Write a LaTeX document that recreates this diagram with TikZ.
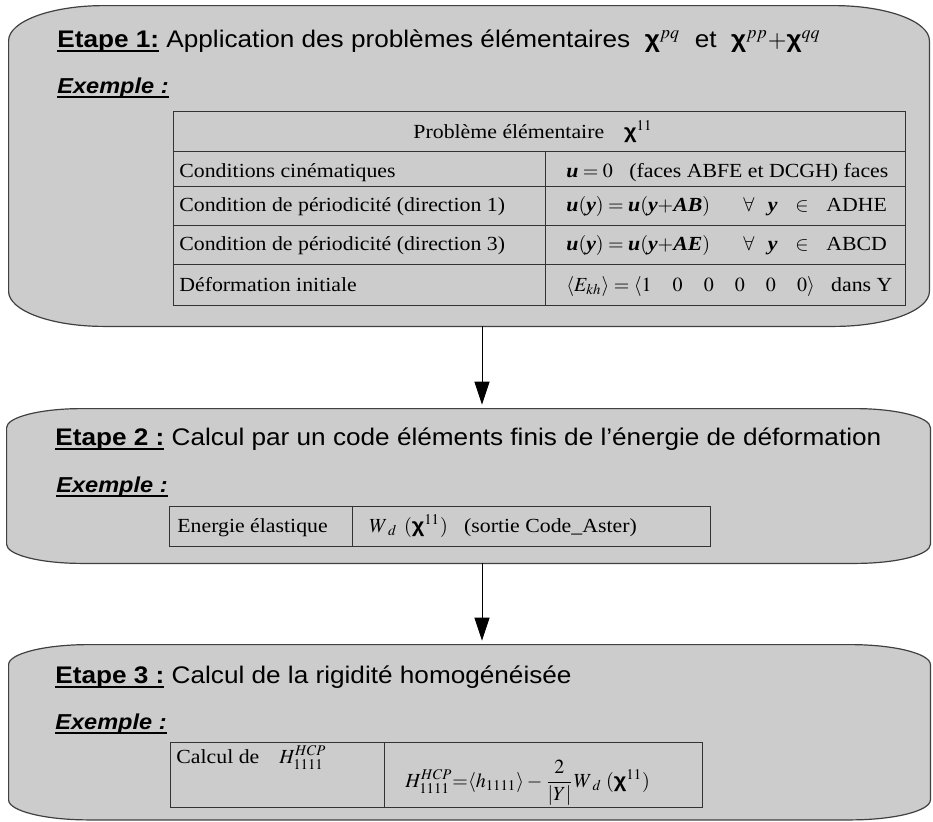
\documentclass[tikz,border=0pt]{standalone}
\usepackage{amsmath}
\usepackage{mathptmx}
\usepackage{fontspec}
\setmainfont{Liberation Serif}[FakeStretch=1.09]
\setsansfont{Liberation Sans}[FakeStretch=1.09]
\usetikzlibrary{arrows.meta,positioning,calc,fit}
\usepackage{xcolor}
\definecolor{boxgray}{RGB}{204,204,204}

\newcommand{\headul}[1]{\setbox0\hbox{#1}\rlap{\rule[-2.3pt]{\wd0}{0.8pt}}\box0\relax}
\newcommand{\bv}[1]{\mbox{\bfseries\itshape #1}}
\newcommand{\chib}{\mbox{\sffamily\bfseries χ}}
% outline of a step box with elliptic corners: node, x radius, y radius
\newcommand{\stepoutline}[3]{%
  \path[steppath]
    ($(#1.north west)+(#2,0)$) -- ($(#1.north east)+(-#2,0)$)
    .. controls ($(#1.north east)+(-0.45*#2,0)$) and ($(#1.north east)+(0,0.45*#3)$) .. ($(#1.north east)+(0,#3)$)
    -- ($(#1.south east)+(0,-#3)$)
    .. controls ($(#1.south east)+(0,-0.45*#3)$) and ($(#1.south east)+(-0.45*#2,0)$) .. ($(#1.south east)+(-#2,0)$)
    -- ($(#1.south west)+(#2,0)$)
    .. controls ($(#1.south west)+(0.45*#2,0)$) and ($(#1.south west)+(0,-0.45*#3)$) .. ($(#1.south west)+(0,-#3)$)
    -- ($(#1.north west)+(0,#3)$)
    .. controls ($(#1.north west)+(0,0.45*#3)$) and ($(#1.north west)+(0.45*#2,0)$) .. ($(#1.north west)+(#2,0)$)
    -- cycle;}

\begin{document}
\begin{tikzpicture}[x=0.5pt, y=-0.5pt,
    stepnode/.style={inner sep=0pt},
    steppath/.style={draw=black!75, line width=0.6pt, fill=boxgray},
    head/.style={font=\sffamily\fontsize{12}{14}\selectfont, inner sep=0pt, anchor=base west},
    exhead/.style={font=\sffamily\fontsize{10.8}{12}\selectfont, inner sep=0pt, anchor=base west},
    cell/.style={font=\fontsize{10}{12}\selectfont, inner sep=0pt, anchor=base west},
    grid/.style={draw=black!80, line width=0.5pt},
    flow/.style={draw, line width=0.5pt, shorten >=2pt, -{Triangle[length=11.5pt,width=7.5pt]}}
]
    \useasboundingbox (0,0) rectangle (933,821);

    \node[stepnode, fit={(9,6) (929,326)}] (step1) {};
    \node[stepnode, fit={(7,409) (930,563)}] (step2) {};
    \node[stepnode, fit={(9,645) (930,819.5)}] (step3) {};
    \stepoutline{step1}{95}{35}
    \stepoutline{step2}{75}{19}
    \stepoutline{step3}{80}{20}

    % Etape 1
    \node[head] (title1) at (57,47) {\headul{\textbf{Etape 1:}} Application des problèmes élémentaires~~$\chib^{pq}$~~et~~$\chib^{pp}{+}\chib^{qq}$};
    \node[exhead] (ex1) at (57,93) {\headul{\textbf{\textit{Exemple :}}}};
    \draw[grid] (173,111) rectangle (905,305);
    \foreach \yy in {151,186,225,264}
        \draw[grid] (173,\yy) -- (905,\yy);
    \draw[grid] (545,151) -- (545,305);
    \node[cell, anchor=base] (prob) at (533,138) {Problème élémentaire\quad$\chib^{11}$};
    \node[cell] (cin) at (179,177) {Conditions cinématiques};
    \node[cell] (per1) at (179,211) {Condition de périodicité (direction 1)};
    \node[cell] (per3) at (179,250) {Condition de périodicité (direction 3)};
    \node[cell] (defo) at (179,291) {Déformation initiale};
    \node[cell] (cinv) at (566,177) {$\bv{u}=0$~~~(faces ABFE et DCGH) faces};
    \node[cell] (per1v) at (566,211) {$\bv{u}(\bv{y})=\bv{u}(\bv{y}{+}\bv{AB})\quad\;\;\;\forall\;\;\;\bv{y}\;\;\;\in\;\;\;\mbox{ADHE}$};
    \node[cell] (per3v) at (566,250) {$\bv{u}(\bv{y})=\bv{u}(\bv{y}{+}\bv{AE})\quad\;\;\;\forall\;\;\;\bv{y}\;\;\;\in\;\;\;\mbox{ABCD}$};
    \node[cell] (defov) at (566,291) {$\langle E_{kh}\rangle=\langle 1\mkern19mu 0\mkern19mu 0\mkern19mu 0\mkern19mu 0\mkern19mu 0\rangle$~~~dans Y};

    % Etape 2
    \node[head] (title2) at (55,445) {\headul{\textbf{Etape 2 :}} Calcul par un code éléments finis de l'énergie de déformation};
    \node[exhead] (ex2) at (56,492) {\headul{\textbf{\textit{Exemple :}}}};
    \draw[grid] (169,506) rectangle (710,546);
    \draw[grid] (352,506) -- (352,546);
    \node[cell] (ener) at (177,532) {Energie élastique};
    \node[cell] (enerv) at (369,532) {$W_{\mkern5mu d}\mkern6mu(\chib^{11})$~~~(sortie Code\_Aster)};

    % Etape 3
    \node[head] (title3) at (55,683) {\headul{\textbf{Etape 3 :}} Calcul de la rigidité homogénéisée};
    \node[exhead] (ex3) at (55,729) {\headul{\textbf{\textit{Exemple :}}}};
    \draw[grid] (170,742) rectangle (702,807);
    \draw[grid] (384,742) -- (384,807);
    \node[cell] (hcp) at (176,763) {Calcul de\quad$H^{HCP}_{1111}$};
    \node[cell] (hcpv) at (405,787) {$H^{HCP}_{1111}{=}\langle h_{1111}\rangle-\dfrac{2}{|Y|}W_{\mkern5mu d}\mkern4mu(\chib^{11})$};

    \coordinate (axis) at (482,0);
    \draw[flow] (step1.south -| axis) -- (step2.north -| axis);
    \draw[flow] (step2.south -| axis) -- (step3.north -| axis);
\end{tikzpicture}
\end{document}
